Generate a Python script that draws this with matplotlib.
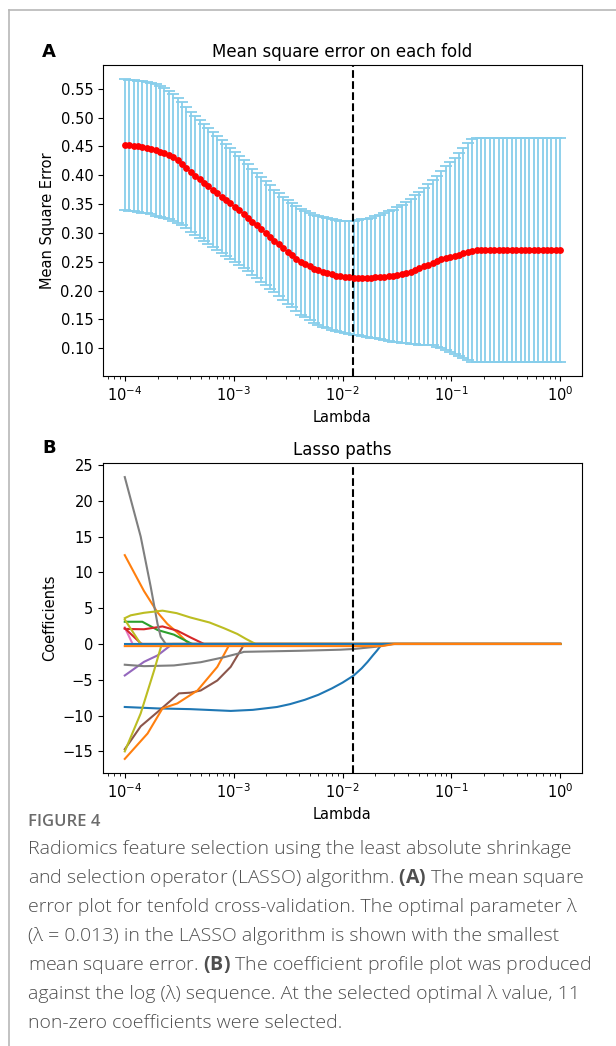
import matplotlib
matplotlib.use("Agg")
import matplotlib.pyplot as plt
from matplotlib.lines import Line2D

# lambda grid of the cross-validation
lambdas = [
    1.000e-4, 1.097e-4, 1.205e-4, 1.322e-4, 1.451e-4, 1.592e-4, 1.748e-4, 1.918e-4, 2.105e-4, 2.310e-4,
    2.535e-4, 2.783e-4, 3.054e-4, 3.352e-4, 3.678e-4, 4.037e-4, 4.431e-4, 4.863e-4, 5.337e-4, 5.857e-4,
    6.428e-4, 7.055e-4, 7.743e-4, 8.498e-4, 9.326e-4, 1.024e-3, 1.123e-3, 1.233e-3, 1.353e-3, 1.485e-3,
    1.630e-3, 1.789e-3, 1.963e-3, 2.154e-3, 2.365e-3, 2.595e-3, 2.848e-3, 3.126e-3, 3.431e-3, 3.765e-3,
    4.132e-3, 4.535e-3, 4.977e-3, 5.462e-3, 5.995e-3, 6.579e-3, 7.221e-3, 7.925e-3, 8.698e-3, 9.546e-3,
    1.048e-2, 1.150e-2, 1.262e-2, 1.385e-2, 1.520e-2, 1.668e-2, 1.831e-2, 2.009e-2, 2.205e-2, 2.420e-2,
    2.656e-2, 2.915e-2, 3.199e-2, 3.511e-2, 3.854e-2, 4.229e-2, 4.642e-2, 5.094e-2, 5.591e-2, 6.136e-2,
    6.734e-2, 7.391e-2, 8.111e-2, 8.902e-2, 9.770e-2, 0.1072, 0.1177, 0.1292, 0.1418, 0.1556,
    0.1707, 0.1874, 0.2057, 0.2257, 0.2477, 0.2719, 0.2984, 0.3275, 0.3594, 0.3944,
    0.4329, 0.4751, 0.5214, 0.5722, 0.6280, 0.6893, 0.7565, 0.8302, 0.9112, 1.000,
]

mse_mean = [
    0.453, 0.452, 0.451, 0.450, 0.449, 0.448, 0.446, 0.444, 0.441, 0.438,
    0.435, 0.431, 0.426, 0.420, 0.413, 0.405, 0.399, 0.393, 0.387, 0.381,
    0.375, 0.369, 0.363, 0.357, 0.351, 0.345, 0.339, 0.332, 0.326, 0.319,
    0.313, 0.306, 0.300, 0.293, 0.286, 0.280, 0.273, 0.267, 0.261, 0.255,
    0.250, 0.246, 0.242, 0.238, 0.235, 0.232, 0.230, 0.228, 0.226, 0.2245,
    0.2235, 0.223, 0.2225, 0.2222, 0.2222, 0.2223, 0.2225, 0.2228, 0.2233, 0.224,
    0.225, 0.226, 0.2272, 0.2288, 0.231, 0.233, 0.236, 0.239, 0.242, 0.245,
    0.248, 0.251, 0.254, 0.2565, 0.2585, 0.260, 0.2625, 0.265, 0.2675, 0.2695,
    0.271, 0.271, 0.271, 0.271, 0.271, 0.271, 0.271, 0.271, 0.271, 0.271,
    0.271, 0.271, 0.271, 0.271, 0.271, 0.271, 0.271, 0.271, 0.271, 0.271,
]

mse_std = [
    0.1135, 0.1136, 0.1137, 0.1138, 0.1139, 0.1140, 0.1140, 0.1140, 0.1135, 0.1125,
    0.1110, 0.1095, 0.1080, 0.1065, 0.1050, 0.1040, 0.1032, 0.1024, 0.1016, 0.1008,
    0.1000, 0.0992, 0.0984, 0.0976, 0.0966, 0.0956, 0.0946, 0.0936, 0.0926, 0.0918,
    0.0910, 0.0905, 0.0900, 0.0895, 0.0892, 0.0890, 0.0892, 0.0896, 0.0902, 0.0910,
    0.0918, 0.0924, 0.0930, 0.0936, 0.0942, 0.0948, 0.0953, 0.0958, 0.0963, 0.0968,
    0.0975, 0.0982, 0.0990, 0.1000, 0.1012, 0.1025, 0.1040, 0.1058, 0.1078, 0.1100,
    0.1122, 0.1145, 0.1170, 0.1196, 0.1225, 0.1257, 0.1290, 0.1325, 0.1360, 0.1395,
    0.1430, 0.1484, 0.1538, 0.1592, 0.1646, 0.1700, 0.1760, 0.1820, 0.1880, 0.1930,
    0.1940, 0.1940, 0.1940, 0.1940, 0.1940, 0.1940, 0.1940, 0.1940, 0.1940, 0.1940,
    0.1940, 0.1940, 0.1940, 0.1940, 0.1940, 0.1940, 0.1940, 0.1940, 0.1940, 0.1940,
]

best_lambda = 0.0126

# lasso coefficient paths, (lambda, coefficient) pairs
path_blue_big = [(1e-4, -8.8), (2.0e-4, -9.0), (4.0e-4, -9.1), (9.4e-4, -9.35), (1.5e-3, -9.2),
                 (2.5e-3, -8.8), (3.3e-3, -8.4), (4.5e-3, -7.8), (6.0e-3, -7.1), (8.0e-3, -6.2),
                 (1.0e-2, -5.4), (1.27e-2, -4.4), (1.5e-2, -3.4), (1.7e-2, -2.5), (1.9e-2, -1.6),
                 (2.08e-2, -0.9), (2.23e-2, -0.3), (2.35e-2, 0.0), (1.0, 0.0)]
path_orange_top = [(1e-4, 12.4), (1.5e-4, 7.4), (2.0e-4, 4.4), (2.46e-4, 2.8), (3.04e-4, 1.6),
                   (3.89e-4, 0.0), (1.0, 0.0)]
path_green = [(1e-4, 3.1), (1.45e-4, 3.1), (2.0e-4, 1.95), (2.83e-4, 1.3), (4.03e-4, 0.1),
              (4.2e-4, 0.0), (1.0, 0.0)]
path_red_peak = [(1e-4, 2.1), (1.5e-4, 2.05), (2.22e-4, 2.45), (3.04e-4, 1.85), (4.03e-4, 0.9),
                 (5.34e-4, 0.0), (1.0, 0.0)]
path_purple = [(1e-4, -4.4), (1.5e-4, -2.5), (2.0e-4, -1.6), (2.74e-4, 0.0), (1.0, 0.0)]
path_brown = [(1e-4, -14.7), (1.4e-4, -11.5), (2.0e-4, -9.5), (3.15e-4, -6.9), (4.03e-4, -6.8),
              (4.98e-4, -6.5), (7.08e-4, -5.1), (9.39e-4, -3.2), (1.2e-3, -0.5), (1.24e-3, 0.0),
              (1.0, 0.0)]
path_pink = [(1e-4, 2.3), (1.18e-4, 0.0), (1.0, 0.0)]
path_gray_top = [(1e-4, 23.3), (1.4e-4, 15.0), (1.73e-4, 8.0), (2.0e-4, 2.8), (2.14e-4, 1.0),
                 (2.38e-4, 0.0), (1.0, 0.0)]
path_olive_top = [(1e-4, 3.6), (1.135e-4, 4.0), (1.5e-4, 4.35), (2.22e-4, 4.65), (3.0e-4, 4.3),
                  (4.0e-4, 3.7), (6.0e-4, 3.0), (8.15e-4, 2.2), (1.08e-3, 1.4), (1.3e-3, 0.7),
                  (1.59e-3, 0.0), (1.0, 0.0)]
path_orange_low = [(1e-4, -16.05), (1.62e-4, -12.5), (2.22e-4, -9.0), (3.04e-4, -8.3),
                   (4.65e-4, -6.5), (7.08e-4, -3.2), (9.06e-4, -0.2), (9.2e-4, 0.0), (1.0, 0.0)]
path_red_short = [(1e-4, 2.2), (1.4e-4, 0.1), (1.45e-4, 0.0), (1.0, 0.0)]
path_gray_low = [(1e-4, -2.9), (1.5e-4, -3.1), (2.83e-4, -3.0), (4.98e-4, -2.55), (8.15e-4, -1.85),
                 (1.16e-3, -1.25), (1.24e-3, -1.1), (4.1e-3, -0.95), (9.6e-3, -0.8),
                 (1.27e-2, -0.7), (2.0e-2, -0.4), (2.9e-2, 0.0), (1.0, 0.0)]
path_olive_low = [(1e-4, -15.0), (1.4e-4, -9.7), (1.86e-4, -3.7), (2.14e-4, -0.5), (2.22e-4, 0.0),
                  (1.0, 0.0)]
path_olive_short = [(1e-4, 3.4), (1.4e-4, 0.0), (1.0, 0.0)]
path_blue_zero = [(1e-4, 0.0), (1.0, 0.0)]
path_orange_flat = [(1e-4, -0.3), (2.3e-2, -0.3), (3.0e-2, 0.0), (1.0, 0.0)]

paths = [path_blue_big, path_orange_top, path_green, path_red_peak, path_purple, path_brown,
         path_pink, path_gray_top, path_olive_top, path_orange_low, path_red_short,
         path_gray_low, path_olive_low, path_olive_short, path_blue_zero, path_orange_flat]
path_colors = ["C0", "C1", "C2", "C3", "C4", "C5", "C6", "C7", "C8", "C1", "C3",
               "C7", "C8", "C8", "C0", "C1"]

caption_title = "FIGURE 4"
caption_lines = [
    "Radiomics feature selection using the least absolute shrinkage",
    "and selection operator (LASSO) algorithm. $\\bf{(A)}$ The mean square",
    "error plot for tenfold cross-validation. The optimal parameter \u03bb",
    "(\u03bb = 0.013) in the LASSO algorithm is shown with the smallest",
    "mean square error. $\\bf{(B)}$ The coefficient profile plot was produced",
    "against the log (\u03bb) sequence. At the selected optimal \u03bb value, 11",
    "non-zero coefficients were selected.",
]

plt.rcParams["mathtext.fontset"] = "custom"
plt.rcParams["mathtext.bf"] = "Open Sans:bold"
plt.rcParams["mathtext.rm"] = "Open Sans:light"

fig = plt.figure(figsize=(6.16, 10.46), dpi=100)

# frame lines of the page
fig.add_artist(Line2D([9 / 616, 9 / 616], [0, 1 - 10 / 1046], transform=fig.transFigure,
                      color="#b8b8b8", lw=1.2))
fig.add_artist(Line2D([9 / 616, 1], [1 - 10 / 1046, 1 - 10 / 1046], transform=fig.transFigure,
                      color="#b8b8b8", lw=1.2))

tick_fs = 10.5

# panel A
ax1 = fig.add_axes([103 / 616, 1 - 376 / 1046, 479 / 616, 311 / 1046])
ax1.errorbar(lambdas, mse_mean, yerr=mse_std, fmt="o", color="red", ms=3.9,
             ecolor="skyblue", elinewidth=1.3, capsize=4, capthick=1.3)
ax1.axvline(best_lambda, color="black", ls="--", lw=1.5)
ax1.set_xscale("log")
ax1.set_title("Mean square error on each fold", fontsize=12)
ax1.set_xlabel("Lambda", fontsize=tick_fs)
ax1.set_ylabel("Mean Square Error", fontsize=tick_fs)
ax1.set_yticks([0.10, 0.15, 0.20, 0.25, 0.30, 0.35, 0.40, 0.45, 0.50, 0.55])
ax1.tick_params(labelsize=tick_fs)

# panel B
ax2 = fig.add_axes([103 / 616, 1 - 773 / 1046, 479 / 616, 310 / 1046])
for pts, col in zip(paths, path_colors):
    ax2.plot([p[0] for p in pts], [p[1] for p in pts], color=col, lw=1.5)
ax2.axvline(best_lambda, color="black", ls="--", lw=1.5)
ax2.set_xscale("log")
ax2.set_title("Lasso paths", fontsize=12)
ax2.set_xlabel("Lambda", fontsize=tick_fs)
ax2.set_ylabel("Coefficients", fontsize=tick_fs)
ax2.set_yticks([-15, -10, -5, 0, 5, 10, 15, 20, 25])
ax2.tick_params(labelsize=tick_fs)

fig.text(42 / 616, 1 - 52 / 1046, "A", fontsize=13, fontweight="bold", va="center")
fig.text(42 / 616, 1 - 448 / 1046, "B", fontsize=13, fontweight="bold", va="center")

fig.text(28 / 616, 1 - 822 / 1046, caption_title, fontsize=12, color="#6b6b6b",
         family="Open Sans", fontweight="semibold", va="center")
for k, line in enumerate(caption_lines):
    fig.text(28 / 616, 1 - (849 + 29 * k) / 1046, line, fontsize=14, color="#4f4f4f",
             family="Open Sans", fontweight="light", va="center")

fig.savefig("out.png", dpi=100)
